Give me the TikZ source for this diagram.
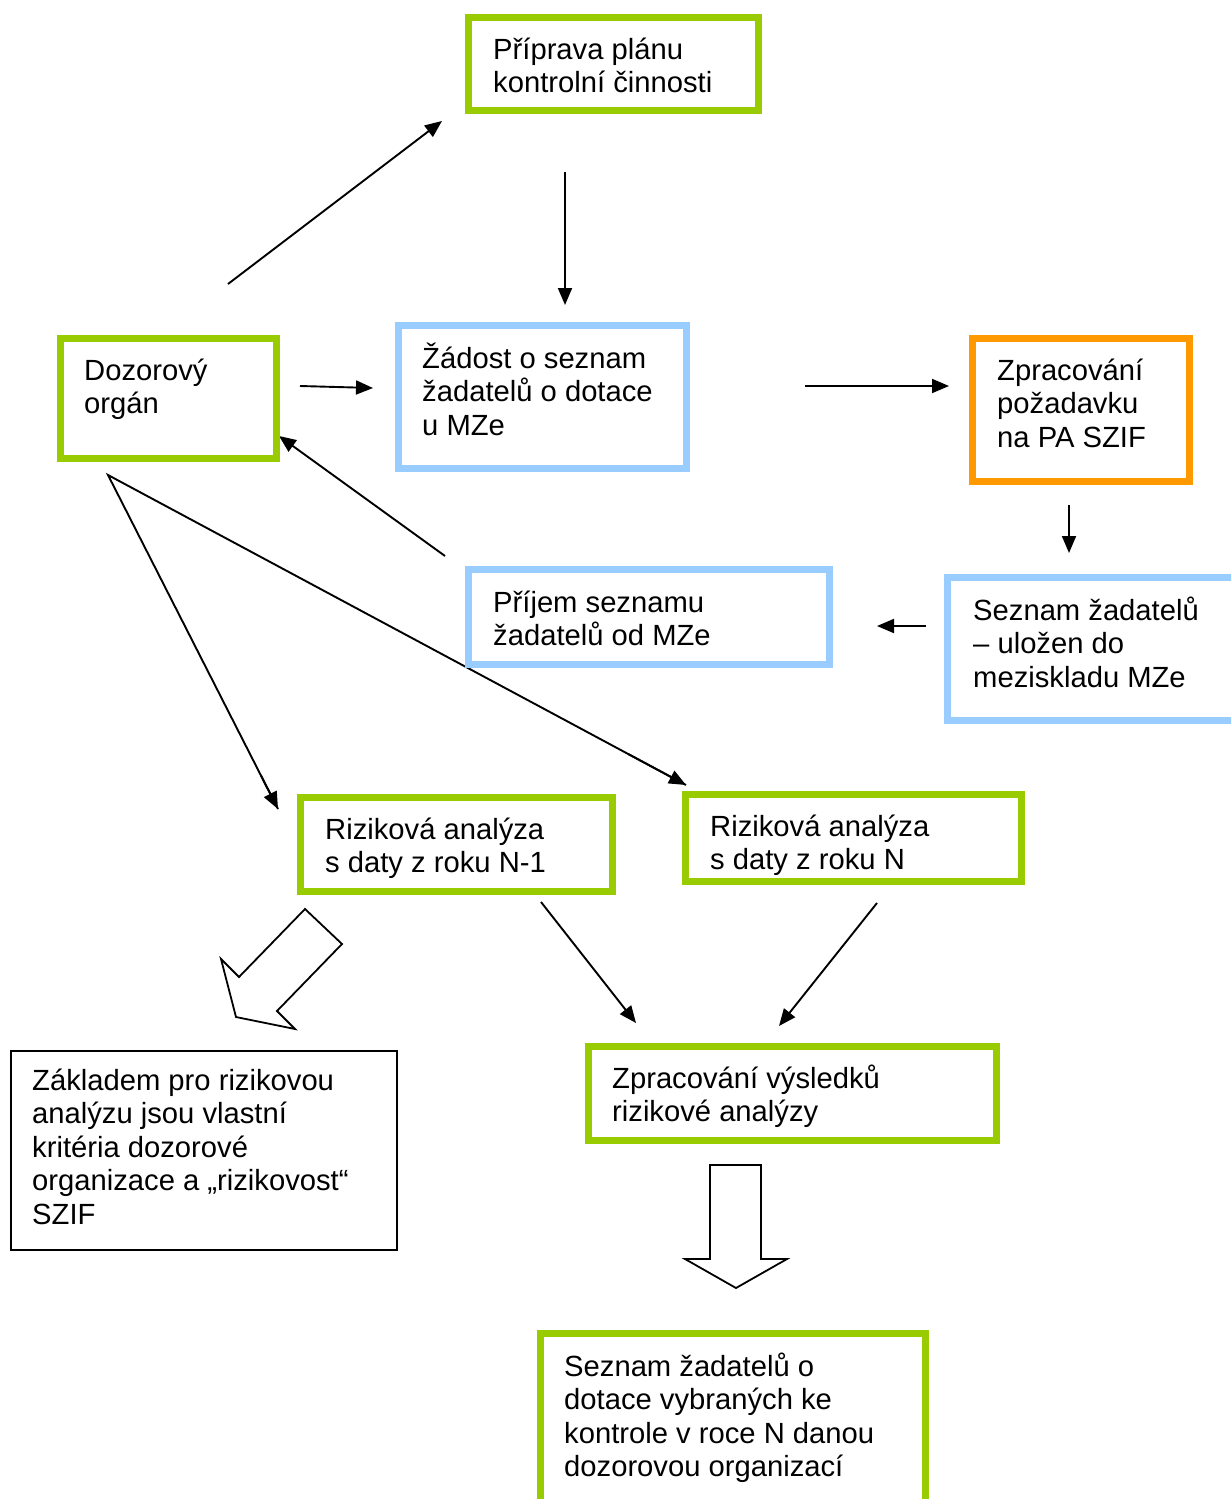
\documentclass[tikz,border=0pt]{standalone}
\usepackage{fontspec}
\setmainfont{Liberation Sans}
\usetikzlibrary{arrows.meta,calc}
\definecolor{boxgreen}{RGB}{153,204,0}
\definecolor{boxblue}{RGB}{153,204,255}
\definecolor{boxorange}{RGB}{255,153,0}
\newcommand{\boxlines}[1]{\begin{tabular}[t]{@{}l@{}}#1\end{tabular}}
\tikzset{
  frame/.style={draw, line width=7pt, fill=white, inner sep=0pt, rectangle},
  greenbox/.style={frame, draw=boxgreen},
  bluebox/.style={frame, draw=boxblue},
  orangebox/.style={frame, draw=boxorange},
  plainbox/.style={draw=black, line width=1.8pt, fill=white, inner sep=0pt, rectangle},
  label/.style={anchor=base west, inner sep=0pt,
    font=\fontsize{29.2pt}{33.6pt}\selectfont},
  arr/.style={line width=1.9pt, -{Triangle[length=17pt,width=14pt]}},
  blockarrow/.style={draw=black, line width=1.8pt, fill=white, line join=miter}
}
\begin{document}
\begin{tikzpicture}[x=1pt,y=-1pt]
\useasboundingbox (0,0) rectangle (1231,1499);

% connector end points
\coordinate (a1s) at (228,284);  \coordinate (a1e) at (442,121);
\coordinate (a2s) at (565,172);  \coordinate (a2e) at (565,305);
\coordinate (a3s) at (300,386);  \coordinate (a3e) at (373,388);
\coordinate (a4s) at (805,386);  \coordinate (a4e) at (949,386);
\coordinate (a5s) at (1069,505); \coordinate (a5e) at (1069,553);
\coordinate (a6s) at (926,626);  \coordinate (a6e) at (877,626);
\coordinate (a7s) at (445,556);  \coordinate (a7e) at (279,436);
\coordinate (fork) at (108,475);
\coordinate (a8e) at (278,809);
\coordinate (a9e) at (686,785);
\coordinate (a10s) at (541,902); \coordinate (a10e) at (636,1023);
\coordinate (a11s) at (877,903); \coordinate (a11e) at (779,1026);

% thin connectors
\draw[arr] (a1s) -- (a1e);
\draw[arr] (a2s) -- (a2e);
\draw[arr] (a3s) -- (a3e);
\draw[arr] (a4s) -- (a4e);
\draw[arr] (a5s) -- (a5e);
\draw[arr] (a6s) -- (a6e);
\draw[arr] (a7s) -- (a7e);
\draw[line width=1.9pt, line join=miter] (a8e) -- (fork) -- (a9e);
\draw[arr] ($(fork)!0.9!(a8e)$) -- (a8e);
\draw[arr] ($(fork)!0.9!(a9e)$) -- (a9e);
\draw[arr] (a10s) -- (a10e);
\draw[arr] (a11s) -- (a11e);

% boxes
\node[greenbox, minimum width=290pt, minimum height=93pt] (prip) at (613.5,64) {};
\node[greenbox, minimum width=216pt, minimum height=120pt] (dozor) at (168.5,398) {};
\node[bluebox, minimum width=288pt, minimum height=143pt] (zadost) at (542.5,397) {};
\node[orangebox, minimum width=217pt, minimum height=143pt] (pozad) at (1081,410) {};
\node[bluebox, minimum width=303pt, minimum height=143pt] (mezisklad) at (1099,649) {};
\node[bluebox, minimum width=361pt, minimum height=95pt] (prijem) at (649,617) {};
\node[greenbox, minimum width=312pt, minimum height=94pt] (rizA) at (456.5,844.5) {};
\node[greenbox, minimum width=336pt, minimum height=87pt] (rizB) at (853.5,838) {};
\node[plainbox, minimum width=386pt, minimum height=199pt] (zaklad) at (204,1150.5) {};
\node[greenbox, minimum width=408pt, minimum height=94pt] (vysl) at (792.5,1093.5) {};
\node[greenbox, minimum width=385pt, minimum height=187pt] (vybrani) at (733,1427) {};

% box texts
\node[label] (tprip) at (493,59) {\boxlines{Příprava plánu\\kontrolní činnosti}};
\node[label] (tdozor) at (84,380) {\boxlines{Dozorový\\orgán}};
\node[label] (tzadost) at (422,368) {\boxlines{Žádost o seznam\\žadatelů o dotace\\u MZe}};
\node[label] (tpozad) at (997,380) {\boxlines{Zpracování\\požadavku\\na PA SZIF}};
\node[label] (tmezisklad) at (973,620) {\boxlines{Seznam žadatelů\\– uložen do\\meziskladu MZe}};
\node[label] (tprijem) at (493,612) {\boxlines{Příjem seznamu\\žadatelů od MZe}};
\node[label] (trizA) at (325,839) {\boxlines{Riziková analýza\\s daty z roku N-1}};
\node[label] (trizB) at (710,836) {\boxlines{Riziková analýza\\s daty z roku N}};
\node[label] (tzaklad) at (32,1090) {\boxlines{Základem pro rizikovou\\analýzu jsou vlastní\\kritéria dozorové\\organizace a „rizikovost“\\SZIF}};
\node[label] (tvysl) at (612,1088) {\boxlines{Zpracování výsledků\\rizikové analýzy}};
\node[label] (tvybrani) at (564,1376) {\boxlines{Seznam žadatelů o\\dotace vybraných ke\\kontrole v roce N danou\\dozorovou organizací}};

% hollow block arrows
\draw[blockarrow] (305,909) -- (342,944) -- (277,1011) -- (295,1029)
  -- (236,1017) -- (221,959) -- (239,977) -- cycle;
\draw[blockarrow] (710,1165) -- (761,1165) -- (761,1259) -- (787,1259)
  -- (736,1288) -- (685,1259) -- (710,1259) -- cycle;
\end{tikzpicture}
\end{document}
